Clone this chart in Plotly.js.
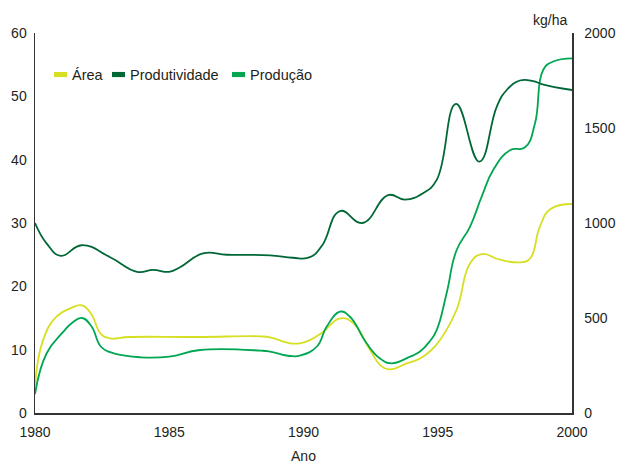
<!DOCTYPE html>
<html>
<head>
<meta charset="utf-8">
<script src="https://cdn.plot.ly/plotly-3.0.1.min.js"></script>
<style>html,body{margin:0;padding:0;background:#fff;}#chart{width:617px;height:464px;}</style>
</head>
<body>
<div id="chart"></div>
<script>
// Área (left axis)
var areaX = [1980.0, 1980.3, 1980.8, 1981.35, 1981.75, 1982.1, 1982.45, 1982.8, 1983.5, 1986.0, 1988.4, 1988.75, 1989.5, 1989.87, 1990.24, 1990.73, 1991.36, 1991.85, 1992.48, 1992.85, 1993.22, 1993.84, 1994.34, 1994.7, 1995.08, 1995.7, 1996.2, 1996.64, 1997.32, 1998.06, 1998.44, 1998.8, 1999.2, 2000.0];
var areaY = [4.3, 11.5, 15.2, 16.6, 17.0, 15.6, 12.5, 11.8, 12.0, 12.0, 12.1, 11.95, 11.0, 11.0, 11.5, 12.8, 14.95, 14.2, 9.95, 7.6, 6.9, 7.85, 8.6, 9.7, 11.5, 16.3, 23.6, 25.1, 24.2, 23.8, 24.4, 29.4, 32.2, 33.0];

// Produtividade (right axis, kg/ha)
var prodtX = [1980.0, 1980.43, 1980.96, 1981.74, 1982.8, 1983.8, 1984.4, 1985.0, 1985.4, 1986.26, 1987.15, 1988.75, 1989.6, 1990.24, 1990.7, 1991.36, 1992.2, 1993.15, 1993.78, 1994.45, 1994.96, 1995.68, 1996.55, 1997.2, 1997.57, 1998.06, 1998.55, 1998.9, 2000.0];
var prodtY = [1000, 893, 827, 883, 820, 743, 753, 743, 767, 840, 833, 830, 817, 820, 883, 1063, 1000, 1147, 1123, 1157, 1227, 1627, 1323, 1613, 1700, 1750, 1747, 1730, 1700];

// Produção (left axis)
var producaoX = [1980.0, 1980.43, 1981.05, 1981.4, 1981.75, 1982.1, 1982.45, 1982.8, 1983.3, 1983.9, 1985.0, 1986.15, 1988.4, 1988.75, 1989.5, 1989.9, 1990.5, 1990.86, 1991.36, 1991.73, 1992.35, 1992.85, 1993.28, 1993.97, 1994.34, 1994.7, 1994.96, 1995.33, 1995.7, 1996.2, 1996.64, 1997.07, 1997.69, 1998.25, 1998.62, 1998.93, 1999.3, 2000.0];
var producaoY = [3.0, 9.4, 12.8, 14.3, 15.0, 13.7, 10.5, 9.6, 9.1, 8.8, 8.9, 9.95, 9.85, 9.7, 9.0, 9.1, 10.5, 13.6, 16.0, 15.2, 11.0, 8.6, 7.85, 8.9, 9.7, 11.3, 13.1, 18.9, 25.7, 29.4, 34.2, 38.4, 41.5, 41.95, 45.7, 54.2, 55.5, 56.0];

var seriesNames = ['Área', 'Produtividade', 'Produção'];
var seriesColors = ['#d7df23', '#006837', '#00a651'];

var xTicks = [1980, 1985, 1990, 1995, 2000];
var yLeftTicks = [0, 10, 20, 30, 40, 50, 60];
var yRightTicks = [0, 500, 1000, 1500, 2000];

var FONT = 'Liberation Sans, Arial, sans-serif';
var TXT = '#231f20';

var lineStyle = function(c){ return {color: c, width: 1.8, shape: 'spline', smoothing: 1.3}; };

var traces = [
  {x: areaX, y: areaY, name: seriesNames[0], mode: 'lines', line: lineStyle(seriesColors[0]), yaxis: 'y', showlegend: false, hoverinfo: 'x+y'},
  {x: prodtX, y: prodtY, name: seriesNames[1], mode: 'lines', line: lineStyle(seriesColors[1]), yaxis: 'y2', showlegend: false, hoverinfo: 'x+y'},
  {x: producaoX, y: producaoY, name: seriesNames[2], mode: 'lines', line: lineStyle(seriesColors[2]), yaxis: 'y', showlegend: false, hoverinfo: 'x+y'}
];

// custom legend: small bars + text (paper coordinates)
var legX = [0.0354, 0.1434, 0.3669];
var shapes = [];
var annotations = [];
for (var i = 0; i < 3; i++) {
  shapes.push({type: 'rect', xref: 'paper', yref: 'paper', x0: legX[i], x1: legX[i] + 0.0242, y0: 0.884, y1: 0.8975, fillcolor: seriesColors[i], line: {width: 0}});
  annotations.push({xref: 'paper', yref: 'paper', x: legX[i] + 0.0296, y: 0.8905, xanchor: 'left', yanchor: 'middle', text: seriesNames[i], showarrow: false, font: {family: FONT, size: 14.5, color: TXT}});
}
annotations.push({xref: 'paper', yref: 'paper', x: 0.959, y: 1.034, xanchor: 'center', yanchor: 'middle', text: 'kg/ha', showarrow: false, font: {family: FONT, size: 14, color: TXT}});

var layout = {
  width: 617, height: 464,
  margin: {l: 35, r: 45, t: 33, b: 51, pad: 0},
  paper_bgcolor: '#fff', plot_bgcolor: '#fff',
  font: {family: FONT, size: 14, color: TXT},
  showlegend: false,
  xaxis: {
    range: [1980, 2000], tickvals: xTicks, ticktext: xTicks.map(String),
    showgrid: false, zeroline: false, showline: true, linecolor: '#333', linewidth: 1.5,
    ticks: '', ticklabelstandoff: 6,
    title: {text: 'Ano', font: {family: FONT, size: 14, color: TXT}, standoff: 14}
  },
  yaxis: {
    range: [0, 60], tickvals: yLeftTicks, ticktext: yLeftTicks.map(String),
    showgrid: false, zeroline: false, showline: true, linecolor: '#333', linewidth: 1.5,
    ticks: '', ticklabelstandoff: 4
  },
  yaxis2: {
    range: [0, 2000], tickvals: yRightTicks, ticktext: yRightTicks.map(String),
    overlaying: 'y', side: 'right',
    showgrid: false, zeroline: false, showline: true, linecolor: '#333', linewidth: 1.5,
    ticks: '', ticklabelstandoff: 8
  },
  shapes: shapes,
  annotations: annotations
};

Plotly.newPlot('chart', traces, layout, {staticPlot: true, displayModeBar: false});
</script>
</body>
</html>
